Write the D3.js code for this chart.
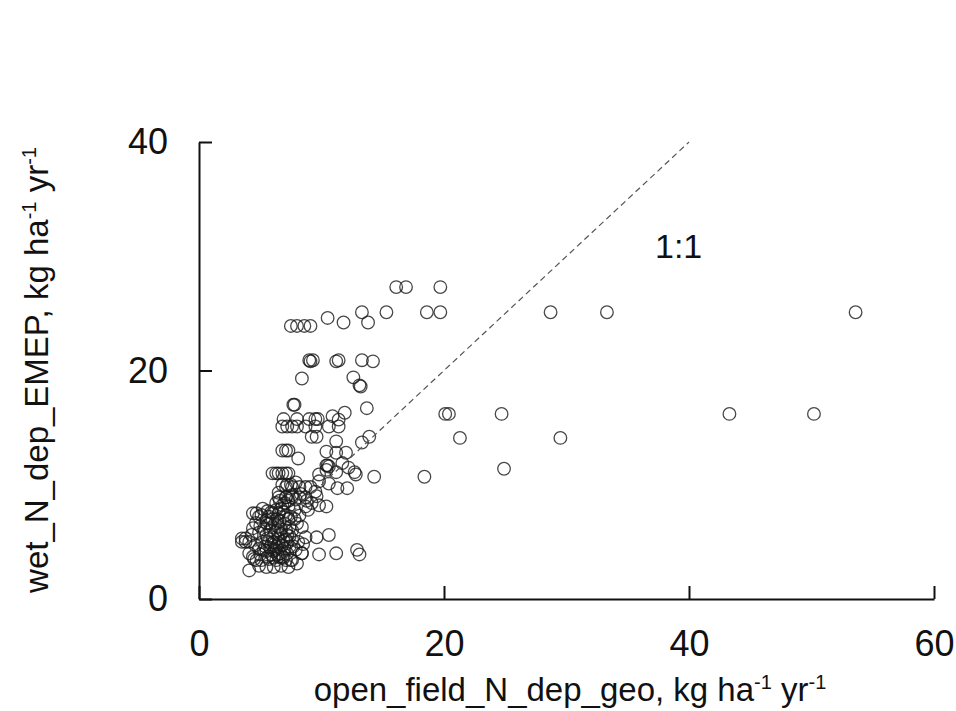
<!DOCTYPE html>
<html>
<head>
<meta charset="utf-8">
<script src="https://cdn.jsdelivr.net/npm/d3@7"></script>
<style>
body { margin: 0; background: #fff; }
text { font-family: "Liberation Sans", Arial, sans-serif; fill: #111; }
</style>
</head>
<body>
<script>
// open_field_N_dep_geo (x) vs wet_N_dep_EMEP (y), kg ha-1 yr-1
var upperPts = [
  [53.6,25.1],[33.3,25.1],[28.7,25.1],[19.7,25.1],[18.6,25.1],[15.3,25.1],[13.3,25.1],
  [19.7,27.3],[16.1,27.3],[16.9,27.3],[7.5,23.9],[8.0,23.9],[8.6,23.9],[9.1,23.9],
  [10.5,24.6],[11.8,24.2],[13.8,24.2],
  [9.0,20.9],[9.1,20.8],[9.3,20.9],[11.2,20.8],[11.4,20.9],[13.3,20.9],[14.2,20.8],
  [8.4,19.3],[12.6,19.4],[13.1,18.7],[13.2,18.6],
  [7.7,17.0],[7.8,17.0],[13.7,16.7],[11.9,16.3],[10.9,16.0],[11.4,15.7],
  [6.9,15.75],[8.0,15.75],[9.0,15.75],[9.5,15.75],[9.7,15.75],
  [6.8,15.1],[7.2,15.1],[7.6,15.1],[8.0,15.1],[8.7,15.1],[9.5,15.1],[10.6,15.1],[11.4,15.1]
];
var outlierPts = [
  [43.3,16.2],[50.2,16.2],[24.7,16.2],[20.1,16.2],[20.4,16.2],[29.5,14.1],[21.3,14.1],
  [24.9,11.4],[18.4,10.7],[14.3,10.7]
];
var middlePts = [
  [13.9,14.2],[13.3,13.7],[9.2,14.2],[9.6,14.2],[11.2,13.8],
  [6.8,13.0],[7.1,13.0],[7.3,13.0],[8.1,12.3],[10.4,12.9],[11.2,12.8],[12.0,12.8],
  [10.4,11.7],[10.5,11.7],[10.6,11.6],[9.8,10.9],[10.4,11.3],[11.2,11.1],[12.7,11.1],
  [12.8,10.9],[11.7,11.9],[12.2,11.5],
  [9.8,10.3],[10.6,10.1],[11.3,9.7],[12.1,9.7],
  [6.0,11.0],[6.3,11.0],[6.5,11.0],[6.8,11.0],[7.1,11.0],[7.3,11.0],
  [7.1,9.8],[7.6,9.8],[8.2,9.8],[8.7,9.8],[9.1,9.8],
  [6.5,8.9],[7.1,8.9],[7.6,8.9],[8.2,8.9],[8.7,8.9],
  [9.2,8.4],[9.8,8.2],[10.4,8.1],[8.7,8.1],[8.9,7.8],
  [8.3,9.2],[9.5,9.4],[8.8,8.6],[9.6,9.0]
];
var clusterPts = [
  [6.8,10.0],[7.2,10.0],[7.5,10.0],[7.9,10.2],
  [6.5,9.3],[7.1,8.9],[7.6,9.1],[7.9,8.7],
  [6.3,8.4],[6.8,8.2],[7.3,8.1],[7.8,7.8],
  [6.0,7.5],[6.5,7.5],[7.1,7.35],[7.5,7.2],
  [4.7,7.5],[5.1,7.35],[5.7,7.2],
  [4.65,6.65],[5.5,6.65],[6.0,6.3],[6.5,6.3],[7.1,6.0],
  [4.9,5.8],[5.5,5.6],[6.0,5.4],[6.5,5.3],[7.1,5.2],[7.6,5.2],
  [3.5,5.0],[3.8,5.0],[4.1,5.0],[3.5,5.3],[3.8,5.3],
  [4.9,4.4],[5.5,4.2],[6.1,4.2],[6.6,4.0],[7.2,4.0],[7.9,4.3],[8.4,4.0],
  [4.5,3.5],[5.1,3.4],[5.7,3.5],[6.3,3.4],[6.9,3.6],[7.5,3.4],
  [4.9,2.9],[5.5,2.8],[6.1,2.8],[6.7,2.9],[7.3,2.8],[8.0,3.1],[4.1,2.5],
  [4.4,7.5],[4.9,7.2],[5.5,6.9],[4.1,4.0],[4.4,3.7],[4.7,3.4],
  [8.4,6.3],[8.7,5.4],[9.6,5.4],[10.6,5.6],[8.4,4.0],[9.8,3.9],[11.2,4.0],
  [12.9,4.3],[13.1,3.9],[6.8,3.7],[7.6,3.4],[7.1,3.4],
  [5.8,6.0],[6.2,5.8],[6.6,6.8],[7.0,6.6],[7.4,6.3],[5.9,4.8],[6.3,4.6],[6.8,4.7],
  [7.2,4.9],[5.2,5.0],[5.6,5.3],[6.0,7.0],[6.4,7.0],[6.9,7.6],[7.3,7.0],[6.7,5.7],
  [7.6,6.0],[8.0,6.6],[8.2,7.3],[7.8,7.0],[5.4,4.6],[4.6,4.7],[5.0,6.4],[5.9,3.9],
  [6.4,3.9],[7.0,4.4],[7.7,4.6],[8.1,5.0],[8.5,4.8],
  [5.3,6.1],[5.8,6.6],[6.2,6.6],[6.7,6.1],[7.2,5.6],[5.7,5.0],[6.1,5.0],[6.5,4.9],
  [6.9,5.1],[5.3,4.3],[5.8,4.5],[6.2,4.3],[6.6,4.5],[7.4,4.6],[5.6,3.7],[6.1,3.6],
  [6.5,3.7],[5.0,3.9],[6.3,7.8],[6.7,7.9],[7.0,8.4],[6.4,6.0],[5.9,7.6],[7.4,5.5],
  [4.3,5.6],[4.4,6.2],[6.6,8.6],[7.3,8.6],[5.2,7.9],[5.6,7.7]
];
var allPts = upperPts.concat(outlierPts, middlePts, clusterPts);

var xTicks = [0, 20, 40, 60];
var yTicks = [0, 20, 40];
var oneToOne = [4, 40];

var svg = d3.select('body').append('svg')
    .attr('width', 956)
    .attr('height', 711);

var x = d3.scaleLinear().domain([0, 60]).range([199, 934]);
var y = d3.scaleLinear().domain([0, 40]).range([599, 142]);

// points
svg.append('g').selectAll('circle')
    .data(allPts)
    .enter().append('circle')
    .attr('cx', function(d) { return x(d[0]); })
    .attr('cy', function(d) { return y(d[1]); })
    .attr('r', 6.3)
    .attr('fill', 'none')
    .attr('stroke', '#1a1a1a')
    .attr('stroke-opacity', 0.8)
    .attr('stroke-width', 1.3);

// 1:1 line
svg.append('line')
    .attr('x1', x(oneToOne[0]))
    .attr('y1', y(oneToOne[0]))
    .attr('x2', x(oneToOne[1]))
    .attr('y2', y(oneToOne[1]))
    .attr('stroke', '#555')
    .attr('stroke-width', 1.2)
    .attr('stroke-dasharray', '6,4');

svg.append('text')
    .attr('x', 655)
    .attr('y', 258)
    .style('font-size', '34px')
    .text('1:1');

// axes
var xAxis = svg.append('g')
    .attr('transform', 'translate(0,599)')
    .call(d3.axisBottom(x).tickValues(xTicks).tickSizeInner(-13).tickSizeOuter(0).tickPadding(31));
var yAxis = svg.append('g')
    .attr('transform', 'translate(199,0)')
    .call(d3.axisLeft(y).tickValues(yTicks).tickSizeInner(-13).tickSizeOuter(0).tickPadding(31));

[xAxis, yAxis].forEach(function(a) {
    a.select('.domain').attr('stroke', '#111').attr('stroke-width', 2);
    a.selectAll('.tick line').attr('stroke', '#111').attr('stroke-width', 2);
    a.selectAll('.tick text').style('font-size', '36px').attr('fill', '#111')
        .style('font-family', '"Liberation Sans", Arial, sans-serif');
});

// axis titles with superscripts
var xTitle = svg.append('text')
    .attr('x', 570)
    .attr('y', 701)
    .attr('text-anchor', 'middle')
    .style('font-size', '33px');
xTitle.append('tspan').text('open_field_N_dep_geo, kg ha');
xTitle.append('tspan').attr('dy', -12).style('font-size', '20px').text('-1');
xTitle.append('tspan').attr('dy', 12).text(' yr');
xTitle.append('tspan').attr('dy', -12).style('font-size', '20px').text('-1');

var yTitle = svg.append('text')
    .attr('transform', 'translate(48,370) rotate(-90)')
    .attr('text-anchor', 'middle')
    .style('font-size', '33px');
yTitle.append('tspan').text('wet_N_dep_EMEP, kg ha');
yTitle.append('tspan').attr('dy', -12).style('font-size', '20px').text('-1');
yTitle.append('tspan').attr('dy', 12).text(' yr');
yTitle.append('tspan').attr('dy', -12).style('font-size', '20px').text('-1');
</script>
</body>
</html>
